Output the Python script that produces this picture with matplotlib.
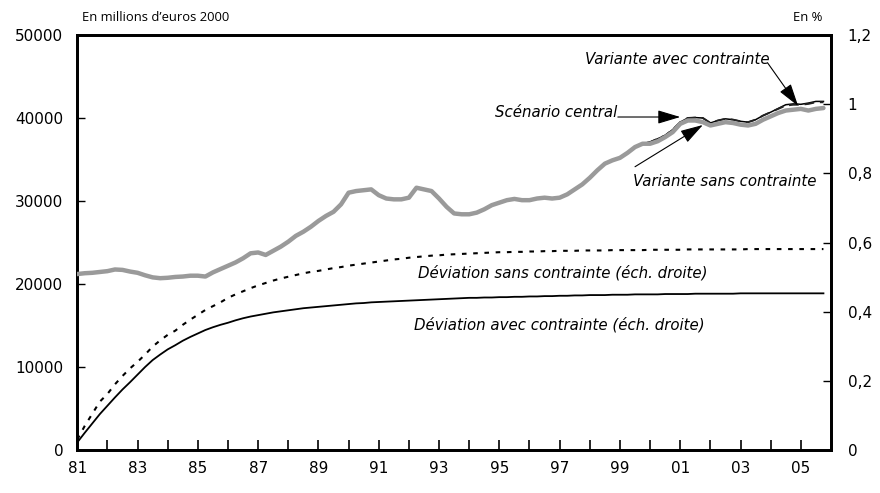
#!/usr/bin/env python3
"""Scénario central vs variantes avec / sans contrainte, 1981-2005 (trimestriel)."""
import numpy as np
import matplotlib
matplotlib.use("Agg")
import matplotlib.pyplot as plt
from matplotlib.ticker import FixedLocator, FuncFormatter

plt.rcParams["font.family"] = ["DejaVu Sans"]

# quarterly positions, 1981Q1 .. 2005Q4
quarters = np.arange(1981, 2006, 0.25)

# common path of the three scenarios, 1981Q1 .. 1999Q4 (millions d'euros 2000)
common_head = [
    21200, 21300, 21350, 21450,
    21550, 21750, 21700, 21500,
    21350, 21050, 20800, 20700,
    20750, 20850, 20900, 21000,
    21000, 20900, 21400, 21800,
    22200, 22600, 23100, 23700,
    23800, 23500, 24000, 24500,
    25100, 25800, 26300, 26900,
    27600, 28200, 28700, 29600,
    31000, 31200, 31300, 31400,
    30700, 30300, 30200, 30200,
    30400, 31600, 31400, 31200,
    30300, 29300, 28500, 28400,
    28400, 28600, 29000, 29500,
    29800, 30100, 30250, 30100,
    30100, 30300, 30400, 30300,
    30400, 30800, 31400, 32000,
    32800, 33700, 34500, 34900,
    35200, 35800, 36500, 36900,
]

# 2000Q1 .. 2005Q4
central_tail = [
    37100, 37500, 37900, 38600,
    39500, 40000, 40050, 40000,
    39400, 39700, 39900, 39800,
    39600, 39500, 39800, 40300,
    40700, 41100, 41500, 41600,
    41600, 41700, 41900, 41900,
]
avec_tail = [
    37100, 37500, 37900, 38600,
    39500, 40000, 40050, 40000,
    39400, 39700, 39900, 39800,
    39600, 39500, 39800, 40300,
    40700, 41150, 41600, 41700,
    41650, 41800, 42000, 42000,
]
sans_tail = [
    36900, 37200, 37700, 38300,
    39300, 39700, 39700, 39500,
    39100, 39300, 39500, 39400,
    39200, 39100, 39300, 39800,
    40200, 40600, 40900, 41000,
    41100, 40900, 41100, 41200,
]

central = common_head + central_tail
avec = common_head + avec_tail
sans = common_head + sans_tail

# deviations, in % (right scale)
dev_sans = [
    0.030, 0.070, 0.105, 0.140, 0.162, 0.190, 0.214, 0.236,
    0.255, 0.276, 0.299, 0.317, 0.333, 0.345, 0.362, 0.377,
    0.391, 0.405, 0.416, 0.427, 0.440, 0.450, 0.459, 0.468,
    0.476, 0.483, 0.490, 0.496, 0.501, 0.506, 0.511, 0.515,
    0.518, 0.522, 0.526, 0.529, 0.533, 0.536, 0.539, 0.542,
    0.545, 0.548, 0.551, 0.553, 0.556, 0.558, 0.560, 0.562,
    0.563, 0.565, 0.566, 0.567, 0.568, 0.569, 0.570, 0.571,
    0.572, 0.572, 0.573, 0.573, 0.574, 0.574, 0.575, 0.575,
    0.576, 0.576, 0.576, 0.577, 0.577, 0.577, 0.577, 0.578,
    0.578, 0.578, 0.578, 0.578, 0.579, 0.579, 0.579, 0.579,
    0.579, 0.580, 0.580, 0.580, 0.580, 0.580, 0.580, 0.580,
    0.580, 0.581, 0.581, 0.581, 0.581, 0.581, 0.581, 0.581,
    0.581, 0.581, 0.581, 0.581,
]
dev_avec = [
    0.022, 0.050, 0.077, 0.104, 0.128, 0.152, 0.175, 0.196,
    0.218, 0.240, 0.260, 0.276, 0.291, 0.303, 0.316, 0.327,
    0.337, 0.347, 0.355, 0.362, 0.368, 0.375, 0.381, 0.386,
    0.390, 0.394, 0.398, 0.401, 0.404, 0.407, 0.410, 0.412,
    0.414, 0.416, 0.418, 0.420, 0.422, 0.424, 0.425, 0.427,
    0.428, 0.429, 0.430, 0.431, 0.432, 0.433, 0.434, 0.435,
    0.436, 0.437, 0.438, 0.439, 0.440, 0.440, 0.441, 0.441,
    0.442, 0.442, 0.443, 0.443, 0.444, 0.444, 0.445, 0.445,
    0.446, 0.446, 0.447, 0.447, 0.448, 0.448, 0.448, 0.449,
    0.449, 0.449, 0.450, 0.450, 0.450, 0.450, 0.451, 0.451,
    0.451, 0.451, 0.452, 0.452, 0.452, 0.452, 0.452, 0.452,
    0.453, 0.453, 0.453, 0.453, 0.453, 0.453, 0.453, 0.453,
    0.453, 0.453, 0.453, 0.453,
]

year_ticks = list(range(1981, 2006))
year_labels = list(range(1981, 2006, 2))
left_ticks = [0, 10000, 20000, 30000, 40000, 50000]
right_ticks = [0, 0.2, 0.4, 0.6, 0.8, 1.0, 1.2]


fig = plt.figure(figsize=(8.8, 4.93), dpi=100)
ax = fig.add_axes([0.0878, 0.0872, 0.8565, 0.8418])
ax2 = ax.twinx()

# deviations on right scale
ax2.plot(quarters, dev_sans, color="black", lw=1.5, linestyle=(0, (2.2, 3.2)))
ax2.plot(quarters, dev_avec, color="black", lw=1.3)

# levels on left scale
ax.plot(quarters, avec, color="black", lw=1.1, zorder=3)
ax.plot(quarters, central, color="#222222", lw=1.4, linestyle=(0, (5, 3)), zorder=3)
ax.plot(quarters, sans, color="#9a9a9a", lw=3.2, zorder=4,
        solid_capstyle="round", solid_joinstyle="round")

ax.set_zorder(ax2.get_zorder() + 1)
ax.patch.set_visible(False)

ax.set_xlim(1981, 2006)
ax.set_ylim(0, 50000)
ax2.set_ylim(0, 1.2)

ax.xaxis.set_major_locator(FixedLocator(year_labels))
ax.xaxis.set_minor_locator(FixedLocator(year_ticks))
ax.xaxis.set_major_formatter(FuncFormatter(lambda v, p: f"{int(round(v)) % 100:02d}"))
ax.set_yticks(left_ticks)
ax.set_yticklabels([str(v) for v in left_ticks])
ax2.set_yticks(right_ticks)
ax2.set_yticklabels([f"{v:g}".replace(".", ",") for v in right_ticks])

for a in (ax, ax2):
    for s in a.spines.values():
        s.set_linewidth(2)
ax.tick_params(axis="x", which="both", direction="in", length=7, width=1.2,
               labelsize=11, pad=8)
ax.tick_params(axis="y", direction="in", length=6, width=1, labelsize=11, pad=10)
ax2.tick_params(axis="y", direction="in", length=6, width=1, labelsize=11, pad=12)

head_font = ["Open Sans", "DejaVu Sans"]
fig.text(0.093, 0.9635, "En millions d\u2019euros 2000", fontsize=9.4,
         va="center", family=head_font)
fig.text(0.934, 0.9635, "En %", fontsize=9.4, va="center", ha="right",
         family=head_font)

arrow = dict(arrowstyle="-|>,head_length=1.4,head_width=0.42", color="black",
             lw=0.8, shrinkA=0, shrinkB=0)
note = dict(style="italic", fontsize=10.8)

ax.text(2003.95, 46990, "Variante avec contrainte", ha="right", va="center", **note)
ax.annotate("", xy=(2004.91, 41450), xytext=(2003.9, 46630), arrowprops=arrow)

ax.text(1998.9, 40120, "Scénario central", ha="right", va="baseline", **note)
ax.annotate("", xy=(2001.0, 40120), xytext=(1998.93, 40120), arrowprops=arrow)

ax.text(1999.43, 32410, "Variante sans contrainte", ha="left", va="center", **note)
ax.annotate("", xy=(2001.75, 39160), xytext=(1999.5, 34130), arrowprops=arrow)

ax.text(1992.3, 21330, "Déviation sans contrainte (éch. droite)", ha="left",
        va="center", **note)
ax.text(1992.17, 15060, "Déviation avec contrainte (éch. droite)", ha="left",
        va="center", **note)

fig.savefig("out.png", dpi=100)
